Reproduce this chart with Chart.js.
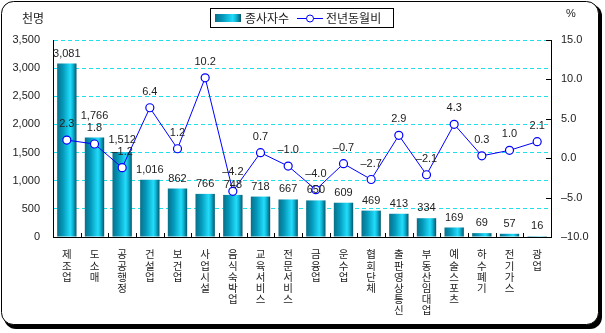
<!DOCTYPE html>
<html>
<head>
<meta charset="utf-8">
<script src="https://cdn.jsdelivr.net/npm/chart.js@4/dist/chart.umd.min.js"></script>
<style>
  html, body { margin: 0; padding: 0; background: #fff; }
  #wrap { width: 605px; height: 333px; }
</style>
</head>
<body>
<div id="wrap"><canvas id="grafico" width="605" height="333"></canvas></div>
<script>
// categorie (업종)
const categorieNomi = ['제조업', '도소매', '공공행정', '건설업', '보건업', '사업시설', '음식숙박업', '교육서비스',
  '전문서비스', '금융업', '운수업', '협회단체', '출판영상통신', '부동산임대업', '예술스포츠', '하수폐기', '전기가스', '광업'];
// 종사자수 (천명)
const lavoratori = [3081, 1766, 1512, 1016, 862, 766, 748, 718, 667, 650, 609, 469, 413, 334, 169, 69, 57, 16];
// 전년동월비 (%)
const variazione = [2.3, 1.8, -1.2, 6.4, 1.2, 10.2, -4.2, 0.7, -1.0, -4.0, -0.7, -2.7, 2.9, -2.1, 4.3, 0.3, 1.0, 2.1];
const etichette = ['종사자수', '전년동월비'];
const titoloSinistra = '천명';
const titoloDestra = '%';

const fontNum = '"Liberation Sans", Arial, sans-serif';
const fontKr = '"Noto Sans CJK KR", "Noto Sans", sans-serif';
const meno = s => s.replace('-', '\u2013');

// gradiente orizzontale della barra
function gradienteBarra(ctx, x0, x1) {
  const g = ctx.createLinearGradient(x0, 0, x1, 0);
  g.addColorStop(0, '#0a6f88');
  g.addColorStop(0.3, '#0399bb');
  g.addColorStop(0.68, '#22dcfa');
  g.addColorStop(0.8, '#10b8d8');
  g.addColorStop(1, '#06566c');
  return g;
}

// cornice arrotondata con ombra
const cornice = {
  id: 'cornice',
  beforeDraw(chart) {
    const c = chart.ctx;
    c.save();
    c.fillStyle = '#fff';
    c.fillRect(0, 0, chart.width, chart.height);
    c.fillStyle = '#000';
    c.beginPath();
    c.roundRect(4, 4, 598, 325, 12);
    c.fill();
    c.fillStyle = '#fff';
    c.strokeStyle = '#000';
    c.lineWidth = 1;
    c.beginPath();
    c.roundRect(1.5, 1.5, 597, 323, 12);
    c.fill();
    c.stroke();
    c.restore();
  }
};

// tacche, etichette, titoli e legenda
const extra = {
  id: 'extra',
  afterDatasetsDraw(chart) {
    const c = chart.ctx;
    const y1 = chart.scales.y1;
    const area = chart.chartArea;
    c.save();
    c.strokeStyle = '#000';
    c.lineWidth = 1;
    // tacche asse destro
    for (let v = -10; v <= 15; v += 5) {
      const py = Math.round(y1.getPixelForValue(v)) + 0.5;
      c.beginPath();
      c.moveTo(area.right - 5, py);
      c.lineTo(area.right, py);
      c.stroke();
    }
    // tacche asse x tra le categorie
    const passo = (area.right - area.left) / categorieNomi.length;
    for (let i = 1; i < categorieNomi.length; i++) {
      const px = Math.round(area.left + passo * i) + 0.5;
      c.beginPath();
      c.moveTo(px, area.bottom);
      c.lineTo(px, area.bottom - 4);
      c.stroke();
    }

    // etichette dati (dataset 0 = linea, dataset 1 = barre)
    c.fillStyle = '#222';
    c.font = '11px ' + fontNum;
    c.textAlign = 'center';
    c.textBaseline = 'middle';
    const barre = chart.getDatasetMeta(1).data;
    const punti = chart.getDatasetMeta(0).data;
    barre.forEach((el, i) => {
      let yBarra = el.y - 10;
      let yLinea = punti[i].y - 16;
      // se le due etichette si sovrappongono, le separa
      if (Math.abs(yBarra - yLinea) < 12) {
        if (yBarra < yLinea) yBarra = yLinea - 12;
        else yLinea = yBarra - 13;
      }
      c.fillText(lavoratori[i].toLocaleString('en-US'), el.x, yBarra);
      c.fillText(meno(variazione[i].toFixed(1)), punti[i].x, yLinea);
    });

    // titoli assi
    c.font = '12px ' + fontKr;
    c.fillText(titoloSinistra, 33, 18);
    c.font = '11px ' + fontNum;
    c.fillText(titoloDestra, 571, 14);

    // legenda
    c.fillStyle = '#fff';
    c.fillRect(210.5, 8.5, 183, 19);
    c.strokeRect(210.5, 8.5, 183, 19);
    c.fillStyle = gradienteBarra(c, 215, 241);
    c.fillRect(215, 14, 26, 8);
    c.fillStyle = '#222';
    c.textAlign = 'left';
    c.font = '12px ' + fontKr;
    c.fillText(etichette[0], 245, 18.5);
    c.fillText(etichette[1], 326, 18.5);
    c.strokeStyle = '#0000ff';
    c.beginPath();
    c.moveTo(297, 18.5);
    c.lineTo(323, 18.5);
    c.stroke();
    c.fillStyle = '#fff';
    c.beginPath();
    c.arc(310, 18.5, 3.5, 0, Math.PI * 2);
    c.fill();
    c.stroke();
    c.restore();
  }
};

const ctx = document.getElementById('grafico').getContext('2d');
new Chart(ctx, {
  type: 'bar',
  data: {
    labels: categorieNomi.map(n => n.split('')),
    datasets: [{
      type: 'line',
      label: etichette[1],
      data: variazione,
      yAxisID: 'y1',
      borderColor: '#0000ff',
      borderWidth: 1,
      pointRadius: 4,
      pointBackgroundColor: '#fff',
      pointBorderColor: '#0000ff',
      pointBorderWidth: 1.2,
      tension: 0,
      order: 0
    }, {
      type: 'bar',
      label: etichette[0],
      data: lavoratori,
      yAxisID: 'y',
      barPercentage: 0.7,
      categoryPercentage: 1,
      order: 1,
      backgroundColor: context => {
        const chart = context.chart;
        if (!chart.chartArea || context.dataIndex === undefined) return '#0aaccc';
        const px = chart.scales.x.getPixelForValue(context.dataIndex);
        const passo = (chart.chartArea.right - chart.chartArea.left) / categorieNomi.length;
        const w = passo * 0.7;
        return gradienteBarra(chart.ctx, px - w / 2, px + w / 2);
      }
    }]
  },
  options: {
    responsive: false,
    animation: false,
    layout: { padding: { top: 40, left: 0, right: 0, bottom: 0 } },
    plugins: {
      legend: { display: false },
      tooltip: { enabled: false }
    },
    scales: {
      x: {
        grid: { display: false, drawTicks: false },
        border: { display: true, color: '#000', width: 1 },
        ticks: {
          autoSkip: false, maxRotation: 0, minRotation: 0, padding: 12,
          color: '#222',
          font: { family: fontKr, size: 10.5, lineHeight: 1.05 }
        },
        afterFit: s => { s.height = 96; }
      },
      y: {
        position: 'left',
        min: 0, max: 3500,
        grid: {
          drawTicks: false,
          tickLength: 0,
          color: c => c.tick && c.tick.value === 0 ? 'rgba(0,0,0,0)' : '#1ee0ea',
          lineWidth: 1
        },
        border: { display: true, color: '#000', width: 1, dash: [4, 3] },
        ticks: {
          stepSize: 500, padding: 13, color: '#222',
          font: { family: fontNum, size: 11 },
          callback: v => v.toLocaleString('en-US')
        },
        afterFit: s => { s.width = 53; }
      },
      y1: {
        position: 'right',
        min: -10, max: 15,
        grid: { display: false, drawTicks: false, tickLength: 0 },
        border: { display: true, color: '#000', width: 1 },
        ticks: {
          stepSize: 5, padding: 10, color: '#222',
          font: { family: fontNum, size: 11 },
          callback: v => meno(v.toFixed(1))
        },
        afterFit: s => { s.width = 54; }
      }
    }
  },
  plugins: [cornice, extra]
});
</script>
</body>
</html>
